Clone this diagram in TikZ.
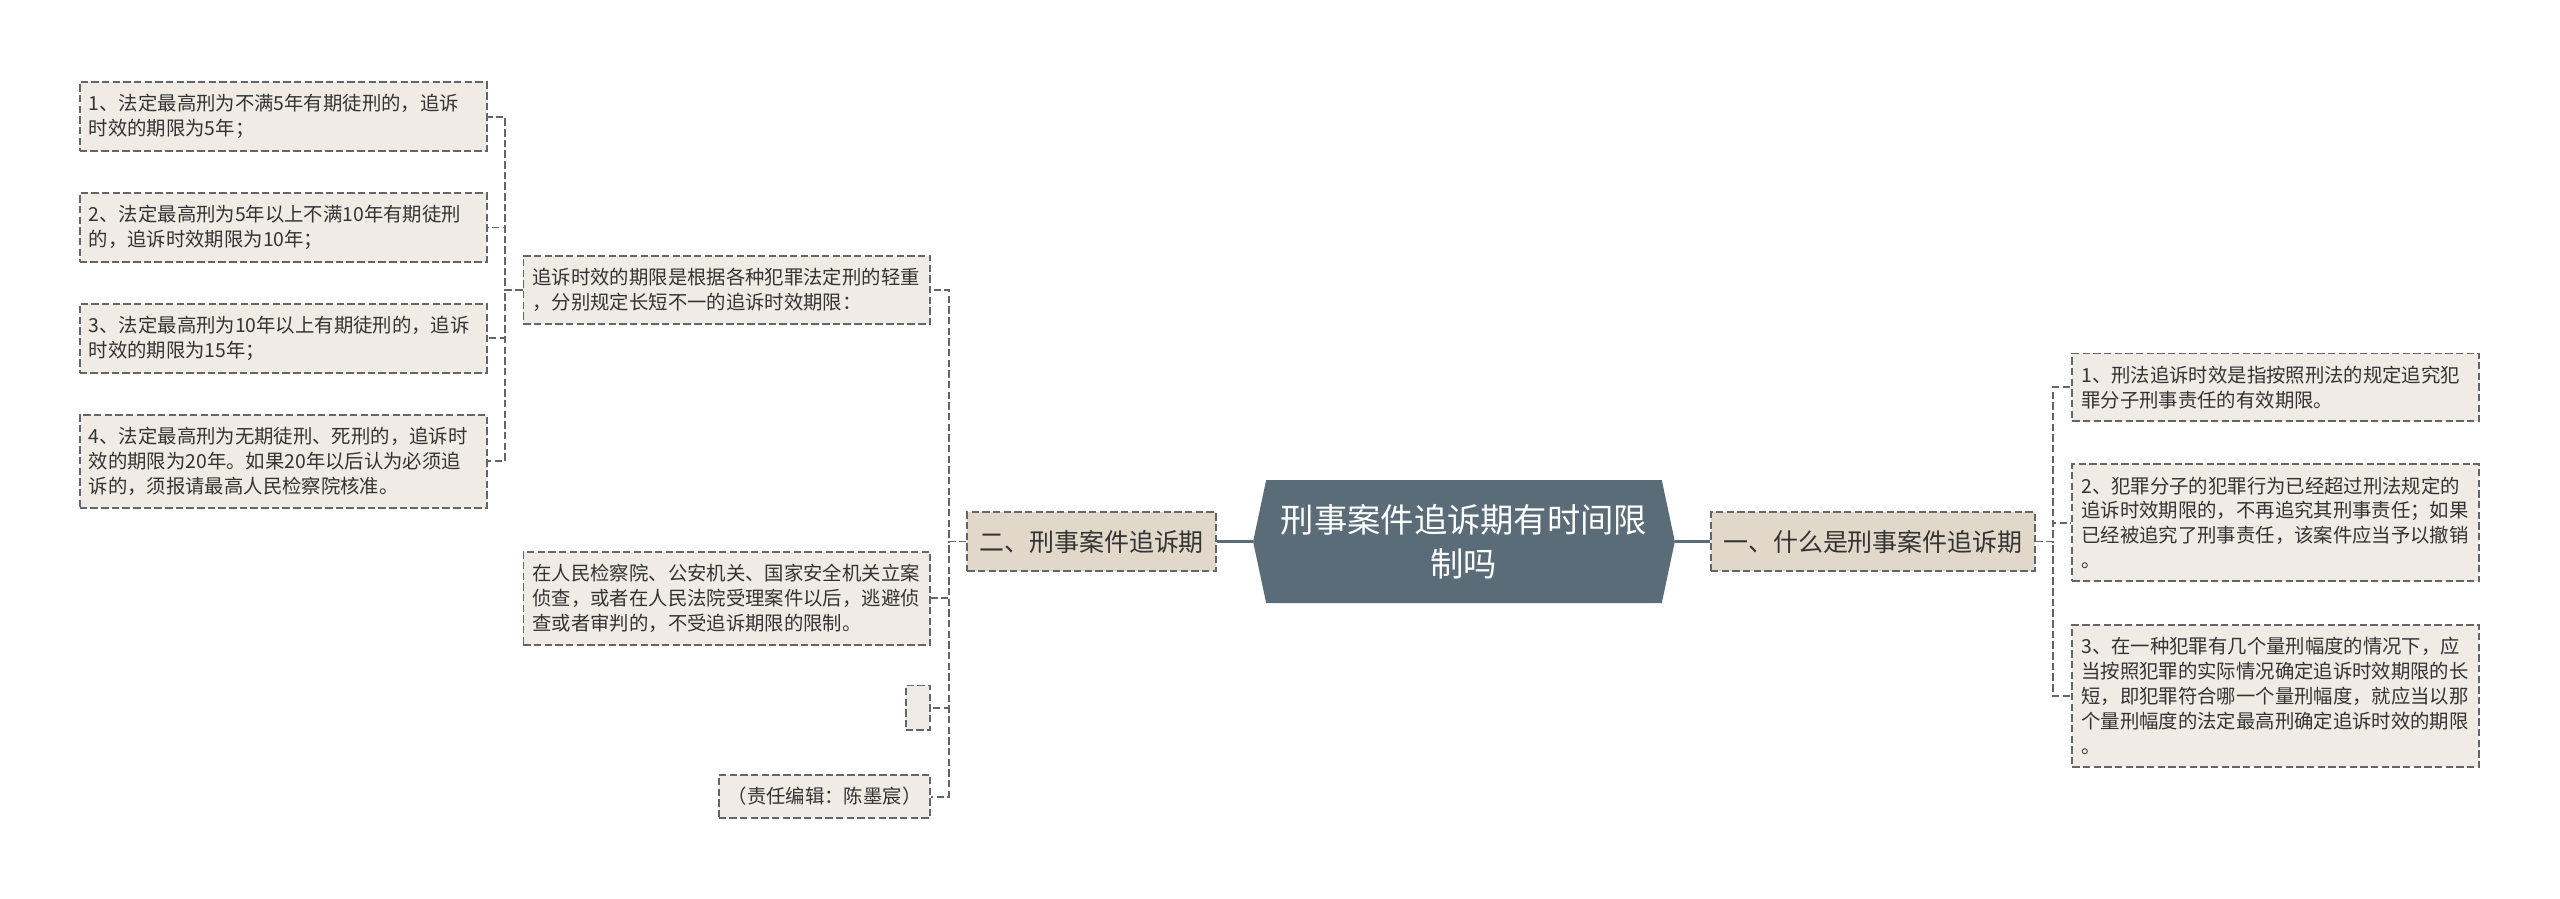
\documentclass[tikz,border=0pt]{standalone}
\usepackage{fontspec}
\setmainfont{Noto Sans CJK SC}
\usepackage{tikz}
\usetikzlibrary{shapes, positioning}
\usepackage{xcolor}

\definecolor{rootfill}{RGB}{90,108,120}
\definecolor{topicfill}{RGB}{225,216,202}
\definecolor{leaffill}{RGB}{240,236,229}
\definecolor{edgegray}{RGB}{98,102,106}
\definecolor{textdark}{RGB}{51,51,51}

\begin{document}
\begin{tikzpicture}[
        node distance=22pt,
        font=\fontsize{11.8pt}{15.2pt}\selectfont,
        % Styles
        rootbox/.style={
            signal,
            signal to=west and east,
            signal pointer angle=156,
            fill=rootfill,
            text=white,
            align=center,
            font=\fontsize{20.3pt}{26.5pt}\selectfont,
            minimum width=257pt,
            minimum height=75pt
          },
        card/.style={
            rectangle,
            draw=edgegray,
            line width=1.15pt,
            dash pattern=on 4.5pt off 2pt,
            text=textdark
          },
        topicbox/.style={
            card,
            fill=topicfill,
            font=\fontsize{15.2pt}{18pt}\selectfont,
            inner xsep=7.4pt,
            minimum height=35.5pt
          },
        leafbox/.style={
            card,
            fill=leaffill,
            text width=237pt,
            align=left,
            inner xsep=5.5pt,
            inner ysep=7.5pt
          },
        notebox/.style={
            card,
            fill=leaffill,
            inner xsep=5.5pt,
            inner ysep=7.5pt
          },
        linkline/.style={
            draw=edgegray,
            line width=1.15pt,
            dash pattern=on 4.5pt off 2pt
          },
        rootline/.style={
            draw=rootfill,
            line width=1.7pt
          }
      ]
      \useasboundingbox (0pt,0pt) rectangle (1560pt,-547.8pt);

      % Central Node
      \node[rootbox] (title) at (892.1pt,-330pt) {刑事案件追诉期有时间限\\制吗};

      % Main Branches
      \node[topicbox, left=21.8pt of title] (part2) {二、刑事案件追诉期};
      \node[topicbox, right=21.3pt of title] (part1) {一、什么是刑事案件追诉期};

      % Branch 2 (Left)
      \node[leafbox, left=21.3pt of part2, yshift=153.5pt] (basis) {追诉时效的期限是根据各种犯罪法定刑的轻重\\，分别规定长短不一的追诉时效期限：};
      \node[leafbox, left=21.3pt of part2, yshift=-34.5pt] (exempt) {在人民检察院、公安机关、国家安全机关立案\\侦查，或者在人民法院受理案件以后，逃避侦\\查或者审判的，不受追诉期限的限制。};
      \node[notebox, minimum width=15pt, minimum height=27pt, left=21.3pt of part2, yshift=-101.2pt] (blank) {};
      \node[notebox, left=21.3pt of part2, yshift=-155.4pt] (editor) {（责任编辑：陈墨宸）};

      % Terms (Far Left)
      \node[leafbox, left=21.2pt of basis, yshift=105.4pt] (term5) {1、法定最高刑为不满5年有期徒刑的，追诉\\时效的期限为5年；};
      \node[leafbox, left=21.2pt of basis, yshift=37.9pt] (term10) {2、法定最高刑为5年以上不满10年有期徒刑\\的，追诉时效期限为10年；};
      \node[leafbox, left=21.2pt of basis, yshift=-29.6pt] (term15) {3、法定最高刑为10年以上有期徒刑的，追诉\\时效的期限为15年；};
      \node[leafbox, left=21.2pt of basis, yshift=-104.5pt] (term20) {4、法定最高刑为无期徒刑、死刑的，追诉时\\效的期限为20年。如果20年以后认为必须追\\诉的，须报请最高人民检察院核准。};

      % Branch 1 (Right)
      \node[leafbox, right=21.8pt of part1, yshift=94pt] (meaning) {1、刑法追诉时效是指按照刑法的规定追究犯\\罪分子刑事责任的有效期限。};
      \node[leafbox, right=21.8pt of part1, yshift=11.4pt] (expired) {2、犯罪分子的犯罪行为已经超过刑法规定的\\追诉时效期限的，不再追究其刑事责任；如果\\已经被追究了刑事责任，该案件应当予以撤销\\。};
      \node[leafbox, right=21.8pt of part1, yshift=-94pt] (ranges) {3、在一种犯罪有几个量刑幅度的情况下，应\\当按照犯罪的实际情况确定追诉时效期限的长\\短，即犯罪符合哪一个量刑幅度，就应当以那\\个量刑幅度的法定最高刑确定追诉时效的期限\\。};

      % Forks
      \coordinate[left=10.7pt of part2.west] (fork2);
      \coordinate[left=10.7pt of basis.west] (forkb);
      \coordinate[right=10.6pt of part1.east] (fork1);

      % Connectors (Center)
      \draw[rootline] (part2) -- (title);
      \draw[rootline] (title) -- (part1);

      % Connectors (Branch 2)
      \draw[linkline] (part2.west) -- (fork2) |- (basis.east);
      \draw[linkline] (part2.west) -- (fork2) |- (exempt.east);
      \draw[linkline] (part2.west) -- (fork2) |- (blank.east);
      \draw[linkline] (part2.west) -- (fork2) |- (editor.east);

      % Connectors (Terms)
      \draw[linkline] (basis.west) -- (forkb) |- (term5.east);
      \draw[linkline] (basis.west) -- (forkb) |- (term10.east);
      \draw[linkline] (basis.west) -- (forkb) |- (term15.east);
      \draw[linkline] (basis.west) -- (forkb) |- (term20.east);

      % Connectors (Branch 1)
      \draw[linkline] (part1.east) -- (fork1) |- (meaning.west);
      \draw[linkline] (part1.east) -- (fork1) |- (expired.west);
      \draw[linkline] (part1.east) -- (fork1) |- (ranges.west);

    \end{tikzpicture}
\end{document}
